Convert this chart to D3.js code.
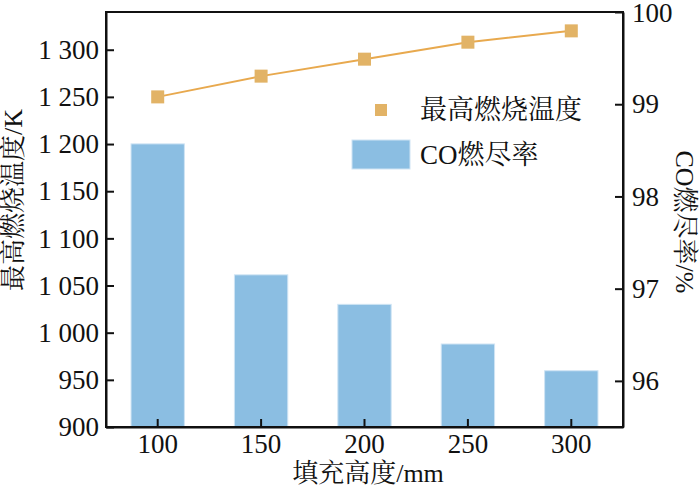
<!DOCTYPE html>
<html><head><meta charset="utf-8">
<script src="https://cdn.jsdelivr.net/npm/d3@7"></script>
<style>
body{margin:0;background:#fff;}
text{font-family:"Liberation Serif","Times New Roman","Noto Serif CJK SC","Noto Sans CJK SC",serif;fill:#111;}
</style></head>
<body>
<svg id="chart" width="700" height="489"></svg>
<script>
const categories = ["100","150","200","250","300"];
const maxTemp = [1250, 1272, 1290, 1308, 1320];
const coBurnout = [98.57, 97.15, 96.83, 96.40, 96.11];
const leftTicks = [900,950,1000,1050,1100,1150,1200,1250,1300];
const rightTicks = [96,97,98,99,100];
const seriesNames = ["最高燃烧温度","CO燃尽率"];

const W=700,H=489, m={l:106,t:12,r:77,b:62};
const svg=d3.select("#chart");
const x=d3.scaleBand().domain(categories).range([m.l,W-m.r]).paddingInner(0.484).paddingOuter(0.242);
const yL=d3.scaleLinear().domain([900,1340]).range([H-m.b,m.t]);
const yR=d3.scaleLinear().domain([95.5,100]).range([H-m.b,m.t]);
const fmtL=d=>d>=1000?Math.floor(d/1000)+" "+String(d%1000).padStart(3,"0"):String(d);

// bars
svg.append("g").selectAll("rect").data(categories).join("rect")
 .attr("x",d=>x(d)).attr("width",x.bandwidth())
 .attr("y",(d,i)=>yR(coBurnout[i])).attr("height",(d,i)=>yR.range()[0]-yR(coBurnout[i]))
 .attr("fill","#8bbee2").attr("stroke","#cfe4f4").attr("stroke-width",1);

// line + markers
const cx=d=>x(d)+x.bandwidth()/2;
svg.append("path").datum(categories)
 .attr("d",d3.line().x(d=>cx(d)).y((d,i)=>yL(maxTemp[i])))
 .attr("fill","none").attr("stroke","#e8a94e").attr("stroke-width",2);
svg.append("g").selectAll("rect").data(categories).join("rect")
 .attr("x",d=>cx(d)-6.5).attr("y",(d,i)=>yL(maxTemp[i])-6.5)
 .attr("width",13).attr("height",13).attr("fill","#e2b366");

// frame
svg.append("rect").attr("x",m.l).attr("y",m.t).attr("width",W-m.l-m.r).attr("height",H-m.t-m.b)
 .attr("fill","none").attr("stroke","#111").attr("stroke-width",2);

// axes
const gL=svg.append("g").attr("transform",`translate(${m.l},0)`)
 .call(d3.axisLeft(yL).tickValues(leftTicks).tickFormat(fmtL).tickSizeInner(-8).tickSizeOuter(0).tickPadding(7));
const gR=svg.append("g").attr("transform",`translate(${W-m.r},0)`)
 .call(d3.axisRight(yR).tickValues(rightTicks).tickFormat(d3.format("d")).tickSizeInner(-8).tickSizeOuter(0).tickPadding(9));
const gB=svg.append("g").attr("transform",`translate(0,${H-m.b})`)
 .call(d3.axisBottom(x).tickSizeInner(-8).tickSizeOuter(0).tickPadding(8));
[gL,gR,gB].forEach(g=>{
  g.select(".domain").attr("stroke","#111").attr("stroke-width",2);
  g.selectAll(".tick line").attr("stroke","#111").attr("stroke-width",2);
  g.selectAll(".tick text").attr("font-size",27).attr("fill","#111")
   .style("font-family",'"Liberation Serif","Times New Roman",serif');
});
gB.selectAll(".tick text").attr("dy","0.71em").attr("y",7);
gR.selectAll(".tick text").filter(d=>d===100).attr("dy","0.36em");

// axis titles
svg.append("text").attr("transform","translate(22,200) rotate(-90)")
 .attr("text-anchor","middle").attr("font-size",26).text("最高燃烧温度/K");
svg.append("text").attr("transform","translate(676,222) rotate(90)")
 .attr("text-anchor","middle").attr("font-size",26).text("CO燃尽率/%");
svg.append("text").attr("x",368).attr("y",482)
 .attr("text-anchor","middle").attr("font-size",26).text("填充高度/mm");

// legend
svg.append("rect").attr("x",375).attr("y",104).attr("width",12).attr("height",12).attr("fill","#e2b366");
svg.append("text").attr("x",420).attr("y",110).attr("dy","0.35em").attr("font-size",27).text(seriesNames[0]);
svg.append("rect").attr("x",352).attr("y",140).attr("width",58).attr("height",29)
 .attr("fill","#8bbee2").attr("stroke","#cfe4f4").attr("stroke-width",1);
svg.append("text").attr("x",420).attr("y",155).attr("dy","0.35em").attr("font-size",27).text(seriesNames[1]);
</script>
</body></html>
